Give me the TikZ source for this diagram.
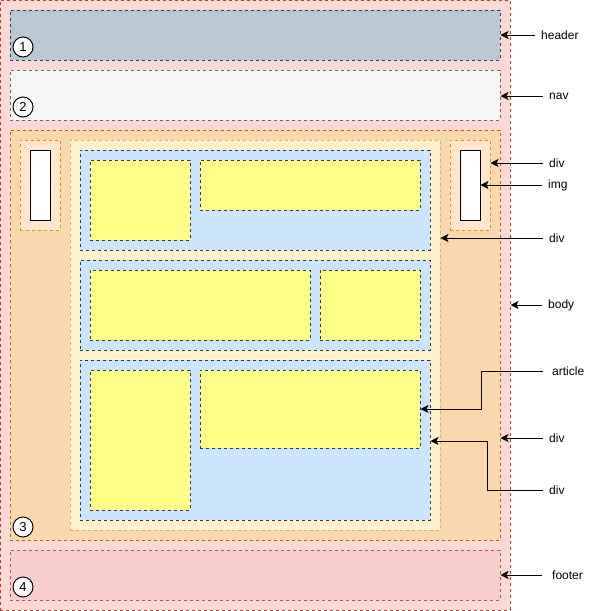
\documentclass[tikz,border=0pt]{standalone}
\usepackage{fontspec}
\setmainfont{Liberation Sans}
\usetikzlibrary{fit,arrows.meta}
\definecolor{outerF}{HTML}{FAD9D5}\definecolor{outerS}{HTML}{AE4132}
\definecolor{headF}{HTML}{BAC8D3}\definecolor{headS}{HTML}{23445D}
\definecolor{navF}{HTML}{F5F5F5}\definecolor{navS}{HTML}{666666}
\definecolor{bodyF}{HTML}{FAD7AC}\definecolor{bodyS}{HTML}{B46504}
\definecolor{sideF}{HTML}{FFE6CC}\definecolor{sideS}{HTML}{D79B00}
\definecolor{centF}{HTML}{FFF2CC}\definecolor{centS}{HTML}{D6B656}
\definecolor{blueF}{HTML}{CCE5FF}\definecolor{darkS}{HTML}{36393D}
\definecolor{yelF}{HTML}{FFFF88}
\definecolor{footF}{HTML}{F8CECC}\definecolor{footS}{HTML}{B85450}
\tikzset{
  box/.style={inner sep=0pt, line width=1pt, dash pattern=on 3pt off 3pt},
  outerbox/.style={box, fill=outerF, draw=outerS},
  headbox/.style={box, fill=headF, draw=headS},
  navbox/.style={box, fill=navF, draw=navS},
  bodybox/.style={box, fill=bodyF, draw=bodyS},
  sidebox/.style={box, fill=sideF, draw=sideS},
  centbox/.style={box, fill=centF, draw=centS},
  bluebox/.style={box, fill=blueF, draw=darkS},
  yelbox/.style={box, fill=yelF, draw=darkS},
  footbox/.style={box, fill=footF, draw=footS},
  imgbox/.style={inner sep=0pt, line width=1pt, fill=white, draw=black},
  num/.style={circle, draw=black, fill=white, line width=1pt, minimum size=20pt, inner sep=0pt, font=\fontsize{13}{15}\selectfont},
  lbl/.style={anchor=west, inner xsep=6pt, inner ysep=0pt, font=\fontsize{12}{14}\selectfont},
  arr/.style={line width=1pt, -{Stealth[length=8pt,width=8pt,inset=2pt]}}
}
\begin{document}
\begin{tikzpicture}[x=1pt,y=-1pt]
\useasboundingbox (0,0) rectangle (594,611);
\node[outerbox, fit={(0,0) (510,610)}] (outer) {};
\node[headbox, fit={(10,10) (500,60)}] (header) {};
\node[navbox, fit={(10,70) (500,120)}] (nav) {};
\node[bodybox, fit={(10,130) (500,540)}] (body) {};
\node[sidebox, fit={(20,140) (60,230)}] (ldiv) {};
\node[imgbox, fit={(30,150) (50,220)}] (limg) {};
\node[sidebox, fit={(450,140) (490,230)}] (rdiv) {};
\node[imgbox, fit={(460,150) (480,220)}] (rimg) {};
\node[centbox, fit={(70,140) (440,530)}] (cdiv) {};
\node[bluebox, fit={(80,150) (430,250)}] (art1) {};
\node[bluebox, fit={(80,260) (430,350)}] (art2) {};
\node[bluebox, fit={(80,360) (430,520)}] (art3) {};
\node[yelbox, fit={(90,160) (190,240)}] (y11) {};
\node[yelbox, fit={(200,160) (420,210)}] (y12) {};
\node[yelbox, fit={(90,270) (310,340)}] (y21) {};
\node[yelbox, fit={(320,270) (420,340)}] (y22) {};
\node[yelbox, fit={(90,370) (190,510)}] (y31) {};
\node[yelbox, fit={(200,370) (420,448)}] (y32) {};
\node[footbox, fit={(10,550) (500,600)}] (footer) {};
\node[num] (n1) at (23,47) {1};
\node[num] (n2) at (23,107) {2};
\node[num] (n3) at (23,527) {3};
\node[num] (n4) at (23,587) {4};
% labels
\node[lbl] (lheader) at (535,35) {header};
\node[lbl] (lnav) at (543,96) {nav};
\node[lbl] (ldivr) at (543,163) {div};
\node[lbl] (limgr) at (542,185) {img};
\node[lbl] (ldivc) at (543,238) {div};
\node[lbl] (lbody) at (542,305) {body};
\node[lbl, inner xsep=9pt] (larticle) at (543,371) {article};
\node[lbl] (ldivb) at (543,438) {div};
\node[lbl] (ldivd) at (543,490) {div};
\node[lbl, inner xsep=10pt] (lfooter) at (542,575) {footer};
% arrows
\draw[arr] (lheader.west) -- (lheader.west -| header.east);
\draw[arr] (lnav.west) -- (lnav.west -| nav.east);
\draw[arr] (ldivr.west) -- (ldivr.west -| rdiv.east);
\draw[arr] (limgr.west) -- (limgr.west -| rimg.east);
\draw[arr] (ldivc.west) -- (ldivc.west -| cdiv.east);
\draw[arr] (lbody.west) -- (lbody.west -| outer.east);
\draw[arr] (ldivb.west) -- (ldivb.west -| body.east);
\draw[arr] (lfooter.west) -- (lfooter.west -| footer.east);
\coordinate (ka) at (481,371);
\draw[arr] (larticle.west) -- (ka) |- (y32.east);
\coordinate (kd) at (487,490);
\coordinate (kdt) at (487,441);
\draw[arr] (ldivd.west) -- (kd) -- (kdt) -- (kdt -| art3.east);
\end{tikzpicture}
\end{document}
